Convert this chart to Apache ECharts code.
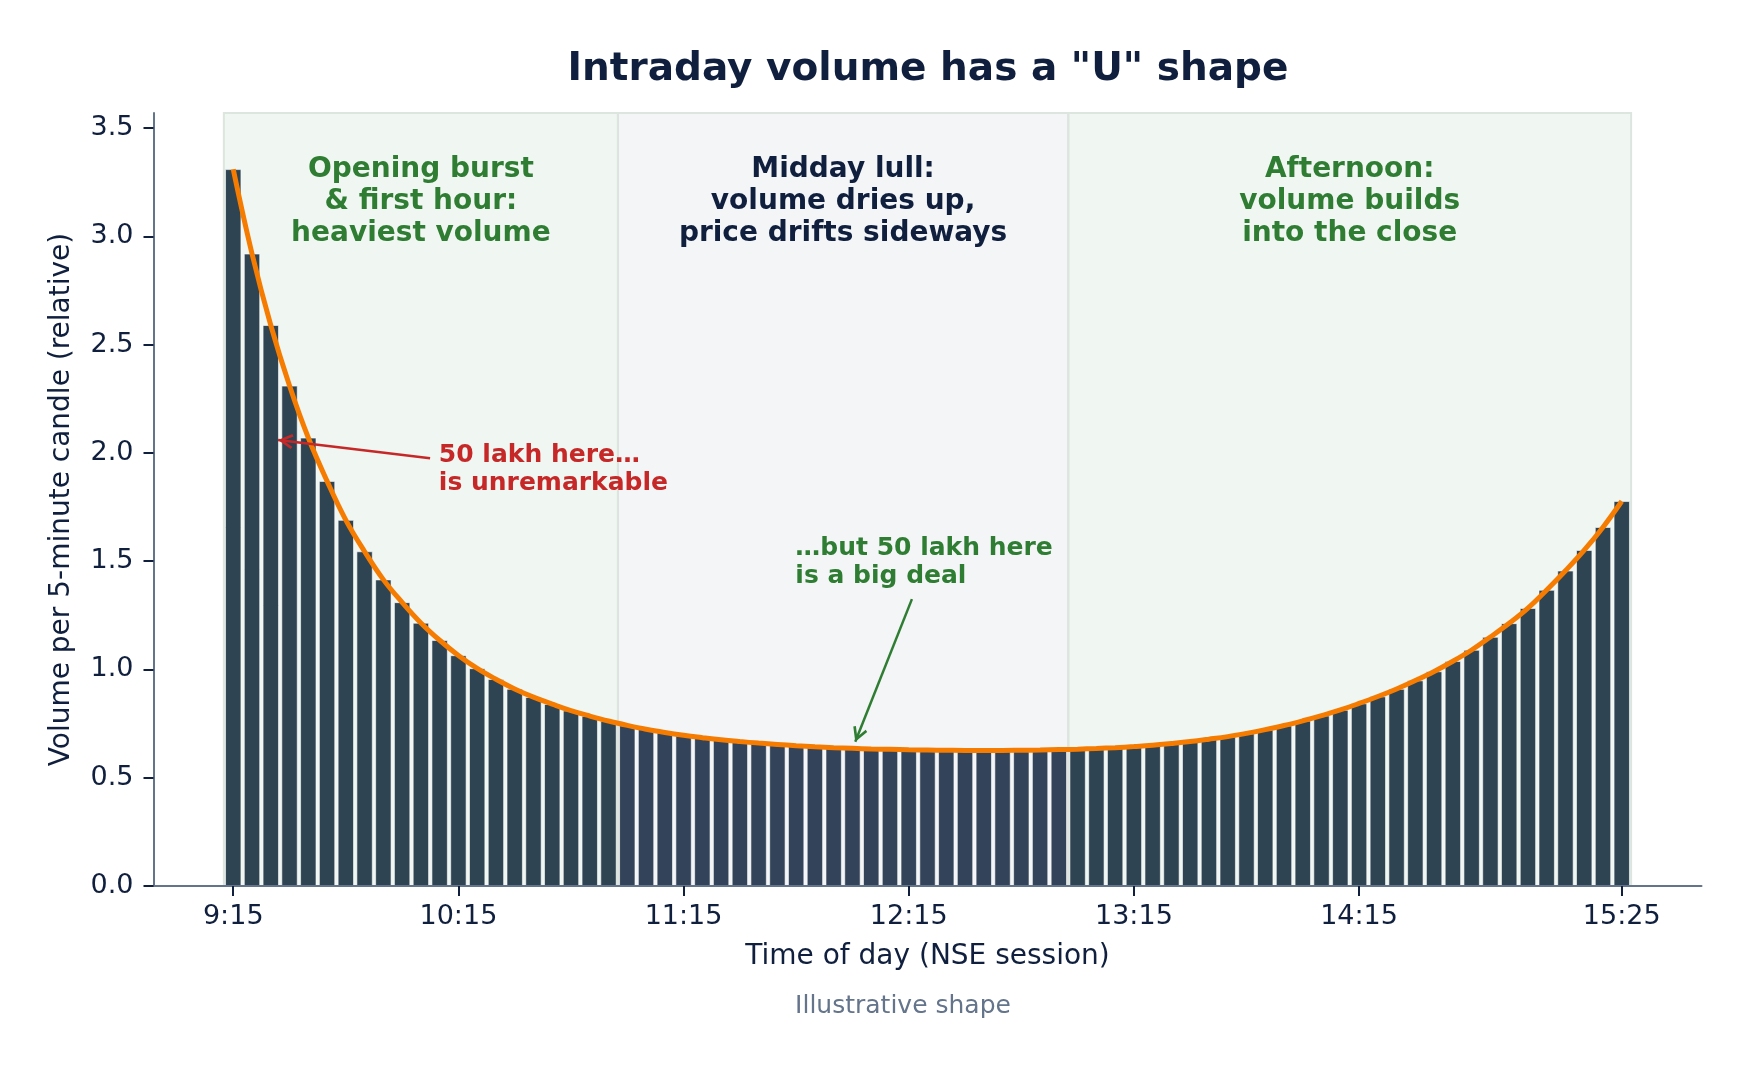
<!DOCTYPE html>
<html>
<head>
<meta charset="utf-8">
<script src="https://cdn.jsdelivr.net/npm/echarts@6/dist/echarts.min.js"></script>
<style>
  html, body { margin: 0; padding: 0; background: #fff; }
  #main { width: 1752px; height: 1068px; }
</style>
</head>
<body>
<div id="main"></div>
<script>
// tick labels on the time axis and the 5-minute slot they sit on
const tickLabels = ['9:15', '10:15', '11:15', '12:15', '13:15', '14:15', '15:25'];
const tickSlots = [0, 12, 24, 36, 48, 60, 74];
const yTicks = [0, 0.5, 1, 1.5, 2, 2.5, 3, 3.5];

// relative volume per 5-minute candle, 9:15 .. 15:25 (75 candles)
const volume = [
  3.31, 2.92, 2.59, 2.31, 2.07, 1.87, 1.69, 1.545, 1.415, 1.31,
  1.215, 1.135, 1.065, 1.005, 0.955, 0.91, 0.872, 0.84, 0.81, 0.785,
  0.762, 0.742, 0.724, 0.709, 0.696, 0.685, 0.675, 0.667, 0.66, 0.654,
  0.648, 0.643, 0.639, 0.636, 0.633, 0.631, 0.629, 0.628, 0.627, 0.626,
  0.626, 0.626, 0.627, 0.628, 0.630, 0.632, 0.635, 0.639, 0.644, 0.650,
  0.658, 0.667, 0.678, 0.690, 0.705, 0.722, 0.741, 0.763, 0.787, 0.813,
  0.843, 0.875, 0.910, 0.949, 0.991, 1.038, 1.090, 1.150, 1.213, 1.283,
  1.367, 1.456, 1.551, 1.657, 1.777
];

// session phases (slot edges) and their captions
const phaseEdges = [-0.5, 20.5, 44.5, 74.5];
const phaseLabels = [
  'Opening burst\n& first hour:\nheaviest volume',
  'Midday lull:\nvolume dries up,\nprice drifts sideways',
  'Afternoon:\nvolume builds\ninto the close'
];

const FONT = 'DejaVu Sans';
const NAVY = '#0f1f3d';
const GREEN = '#2e7d32';
const RED = '#c62828';
const BAR_EDGE = '#2e4452';
const BAR_MID = '#334359';

// open arrow head, tip at the centre of its box
const arrowHead = 'path://M0,0 L6,11 L4.2,12.2 L0,4.4 L-4.2,12.2 L-6,11 Z M-6,-12.2 L-5.9,-12.2 Z';

const points = volume.map((v, i) => [i, v]);

const phaseFill = [
  'rgba(46,125,50,0.07)',
  'rgba(100,116,139,0.07)',
  'rgba(46,125,50,0.07)'
];
const areas = [];
for (let k = 0; k < 3; k++) {
  areas.push([
    { xAxis: phaseEdges[k], itemStyle: { color: phaseFill[k], borderColor: '#dce5de', borderWidth: 2 } },
    { xAxis: phaseEdges[k + 1] }
  ]);
}

const phaseY = 3.16;
const captions = phaseLabels.map((t, k) => ({
  coord: [(phaseEdges[k] + phaseEdges[k + 1]) / 2, phaseY],
  label: {
    formatter: t,
    color: k === 1 ? NAVY : GREEN
  }
}));

const chart = echarts.init(document.getElementById('main'));
chart.setOption({
  animation: false,
  backgroundColor: '#ffffff',
  textStyle: { fontFamily: FONT },
  grid: { left: 153.5, right: 50.5, top: 113, bottom: 182 },
  graphic: [
    {
      type: 'text',
      style: {
        text: 'Intraday volume has a "U" shape',
        x: 928, y: 70, align: 'center', verticalAlign: 'middle',
        font: 'bold 39px "DejaVu Sans"', fill: NAVY
      }
    },
    {
      type: 'text',
      style: {
        text: 'Illustrative shape',
        x: 903, y: 1006, align: 'center', verticalAlign: 'middle',
        font: '25px "DejaVu Sans"', fill: '#64748b'
      }
    }
  ],
  xAxis: {
    type: 'value',
    min: -4.25,
    max: 78.25,
    z: 5,
    splitLine: { show: false },
    axisLine: { show: true, onZero: false, lineStyle: { color: '#64748b', width: 2 } },
    axisTick: { show: true, customValues: tickSlots, length: 10, lineStyle: { color: NAVY, width: 2 } },
    axisLabel: {
      customValues: tickSlots,
      formatter: v => tickLabels[tickSlots.indexOf(v)],
      fontSize: 27, color: NAVY, margin: 17, fontFamily: FONT
    },
    name: 'Time of day (NSE session)',
    nameLocation: 'middle',
    nameGap: 57,
    nameTextStyle: { fontSize: 28, color: NAVY, fontFamily: FONT }
  },
  yAxis: {
    type: 'value',
    min: 0,
    max: 3.57,
    z: 5,
    splitLine: { show: false },
    axisLine: { show: true, onZero: false, lineStyle: { color: '#64748b', width: 2 } },
    axisTick: { show: true, customValues: yTicks, length: 10, lineStyle: { color: NAVY, width: 2 } },
    axisLabel: {
      customValues: yTicks,
      formatter: v => v.toFixed(1),
      fontSize: 27, color: NAVY, margin: 20, fontFamily: FONT
    },
    name: 'Volume per 5-minute candle (relative)',
    nameLocation: 'middle',
    nameGap: 78,
    nameTextStyle: { fontSize: 28, color: NAVY, fontFamily: FONT }
  },
  series: [
    {
      type: 'bar',
      data: points,
      barWidth: 16,
      z: 2,
      itemStyle: {
        color: p => (p.dataIndex > 20 && p.dataIndex < 45 ? BAR_MID : BAR_EDGE),
        borderColor: '#ffffff',
        borderWidth: 0.6
      },
      markArea: { silent: true, z: 1, data: areas }
    },
    {
      type: 'line',
      data: points,
      smooth: 0.4,
      showSymbol: false,
      z: 3,
      lineStyle: { color: '#f57c00', width: 5, cap: 'butt' },
      markLine: {
        silent: true,
        symbol: ['none', 'none'],
        label: { show: false },
        data: [
          [
            { coord: [10.49, 1.976], symbol: 'none', lineStyle: { color: RED, width: 2.5, type: 'solid' } },
            { coord: [2.39, 2.06], symbol: arrowHead, symbolSize: [15, 30] }
          ],
          [
            { coord: [36.17, 1.325], symbol: 'none', lineStyle: { color: GREEN, width: 2.5, type: 'solid' } },
            { coord: [33.15, 0.666], symbol: arrowHead, symbolSize: [15, 30] }
          ]
        ]
      },
      markPoint: {
        silent: true,
        symbol: 'circle',
        symbolSize: 1,
        itemStyle: { color: 'rgba(0,0,0,0)' },
        label: {
          show: true,
          position: 'inside',
          fontFamily: FONT,
          fontWeight: 'bold',
          fontSize: 28,
          lineHeight: 32,
          align: 'center',
          verticalAlign: 'middle'
        },
        data: captions.concat([
          {
            coord: [10.93, 1.925],
            label: {
              formatter: '50 lakh here…\nis unremarkable',
              color: RED, fontSize: 25, lineHeight: 28,
              position: 'right', distance: 0, align: 'left'
            }
          },
          {
            coord: [29.93, 1.495],
            label: {
              formatter: '…but 50 lakh here\nis a big deal',
              color: GREEN, fontSize: 25, lineHeight: 28,
              position: 'right', distance: 0, align: 'left'
            }
          }
        ])
      }
    }
  ]
});
</script>
</body>
</html>
